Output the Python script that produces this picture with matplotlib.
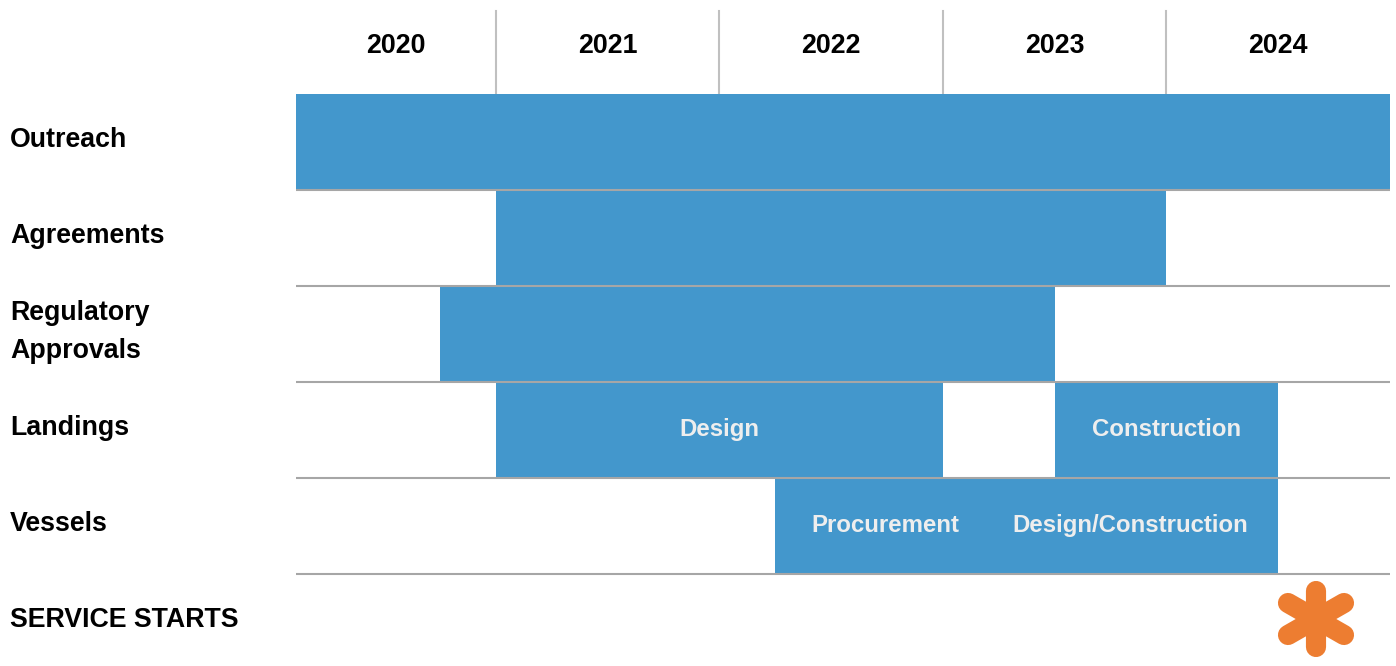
import matplotlib.pyplot as plt
from matplotlib.markers import MarkerStyle
from matplotlib.transforms import Affine2D, blended_transform_factory

plt.rcParams['font.family'] = ['Liberation Sans', 'DejaVu Sans']
plt.rcParams['font.weight'] = 'bold'

# rows (top to bottom)
rows = ['Outreach', 'Agreements', 'Regulatory\nApprovals', 'Landings', 'Vessels', 'SERVICE STARTS']
years = [2020, 2021, 2022, 2023, 2024]
x_start, x_end = 2020.107, 2025.0

# bars: row index, start, end, label, label x
bar_rows = [0, 1, 2, 3, 3, 4, 4]
bar_start = [2020.107, 2021.0, 2020.75, 2021.0, 2023.5, 2022.25, 2023.25]
bar_end = [2025.0, 2024.0, 2023.5, 2023.0, 2024.5, 2023.25, 2024.5]
bar_text = ['', '', '', 'Design', 'Construction', 'Procurement', 'Design/Construction']
bar_text_x = [None, None, None, 2022.0, 2024.0, 2022.745, 2023.84]

service_start = 2024.67

BLUE = '#4397cc'
ORANGE = '#ed7d31'

fig = plt.figure(figsize=(13.96, 6.66), dpi=100)
ax = fig.add_axes([296 / 1396, 0, (1390 - 296) / 1396, 1])
ax.set_xlim(x_start, x_end)
top = -94 / 96
bottom = (666 - 94) / 96
ax.set_ylim(bottom, top)
ax.axis('off')

# bars
for r, s, e, t, tx in zip(bar_rows, bar_start, bar_end, bar_text, bar_text_x):
    ax.barh(r + 0.5, e - s, left=s, height=1.0, color=BLUE, zorder=2)
    if t:
        ax.text(tx, r + 0.49, t, ha='center', va='center', color='#eeeeee',
                fontsize=17.3, zorder=4)

# row separators
for i in range(1, len(rows)):
    ax.plot([x_start, x_end], [i, i], color='#a6a6a6', lw=1.5, zorder=3,
            solid_capstyle='butt')

# year header
for y in years:
    lo = max(y, x_start)
    hi = min(y + 1, x_end)
    ax.text((lo + hi) / 2, -0.5, str(y), ha='center', va='center', fontsize=19.3)
    if y > years[0]:
        ax.plot([y, y], [-0.865, 0], color='#c0c0c0', lw=1.5, zorder=1)

# row labels
trans = blended_transform_factory(fig.transFigure, ax.transData)
for i, name in enumerate(rows):
    ax.text(10 / 1396, i + 0.48, name, transform=trans, ha='left', va='center',
            fontsize=19.3, linespacing=1.6)

# service start asterisk: three rounded strokes
for ang, size in ((0, 40), (60, 47), (-60, 47)):
    m = MarkerStyle('|', capstyle='round', transform=Affine2D().rotate_deg(ang))
    ax.plot([service_start], [len(rows) - 0.53], marker=m, markersize=size,
            markeredgewidth=14.5, color=ORANGE, zorder=5, clip_on=False)

fig.savefig('out.png', dpi=100)
